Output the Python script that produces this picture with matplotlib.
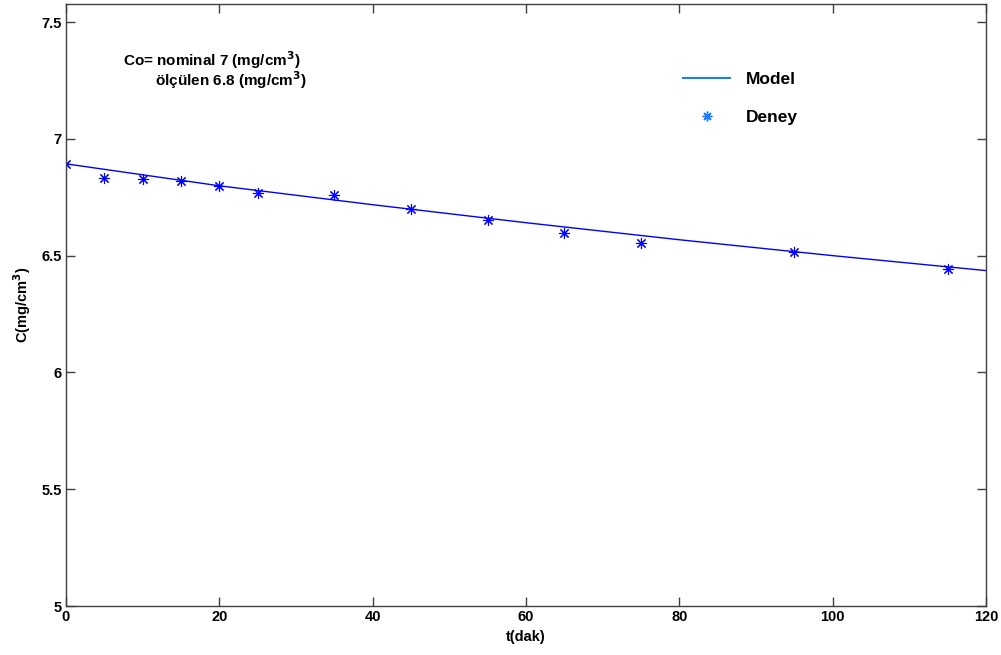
import matplotlib
matplotlib.use("Agg")
import matplotlib.pyplot as plt
from matplotlib.lines import Line2D

plt.rcParams['font.family'] = ['Liberation Sans', 'DejaVu Sans']
plt.rcParams['font.weight'] = 'bold'

# deney (measured) points
t_exp = [0, 5, 10, 15, 20, 25, 35, 45, 55, 65, 75, 95, 115]
c_exp = [6.893, 6.833, 6.830, 6.820, 6.800, 6.770, 6.760, 6.700, 6.654, 6.598, 6.552, 6.514, 6.444]

# model curve
t_model = [0, 20, 40, 60, 80, 100, 120]
c_model = [6.893, 6.799, 6.718, 6.641, 6.568, 6.500, 6.436]

xticks = [0, 20, 40, 60, 80, 100, 120]
yticks = [5, 5.5, 6, 6.5, 7, 7.5]

fig = plt.figure(figsize=(10.01, 6.55), dpi=100)
ax = fig.add_axes([0.0659, 0.0748, 0.919, 0.919])

ax.plot(t_model, c_model, color='#0000ff', lw=1.0)
ax.plot(t_exp, c_exp, ls='none', marker=(8, 2, 0), ms=8, mew=0.8, color='#0000ff')

ax.set_xlim(0, 120)
ax.set_ylim(5, 7.577)
ax.set_xticks(xticks)
ax.set_yticks(yticks)
ax.set_xticklabels([str(v) for v in xticks])
ax.set_yticklabels(['5', '5.5', '6', '6.5', '7', '7.5'])
ax.tick_params(direction='in', length=6.5, width=1, top=True, right=True,
               labelsize=10.5, pad=3, colors='#404040', labelcolor='black')
for s in ax.spines.values():
    s.set_color('#404040')
    s.set_linewidth(1.0)

ax.set_xlabel('t(dak)', fontsize=10.5, fontweight='bold', labelpad=4)
ax.set_ylabel('C(mg/cm$^3$)', fontsize=10.5, fontweight='bold', labelpad=6)

ax.text(0.062, 0.907, 'Co= nominal 7 (mg/cm$^3$)', transform=ax.transAxes,
        fontsize=11, fontweight='bold', va='center')
ax.text(0.097, 0.874, 'ölçülen 6.8 (mg/cm$^3$)', transform=ax.transAxes,
        fontsize=11, fontweight='bold', va='center')

handles = [Line2D([], [], color='#1a7fff', lw=1.5),
           Line2D([], [], ls='none', marker=(8, 2, 0), ms=7, color='#1a7fff')]
ax.legend(handles, ['Model', 'Deney'], loc='upper left', bbox_to_anchor=(0.671, 0.888),
          frameon=False, fontsize=12.5, handlelength=2.7, handletextpad=0.9,
          labelspacing=1.35, borderpad=0, borderaxespad=0)

fig.savefig('out.png', dpi=100)
